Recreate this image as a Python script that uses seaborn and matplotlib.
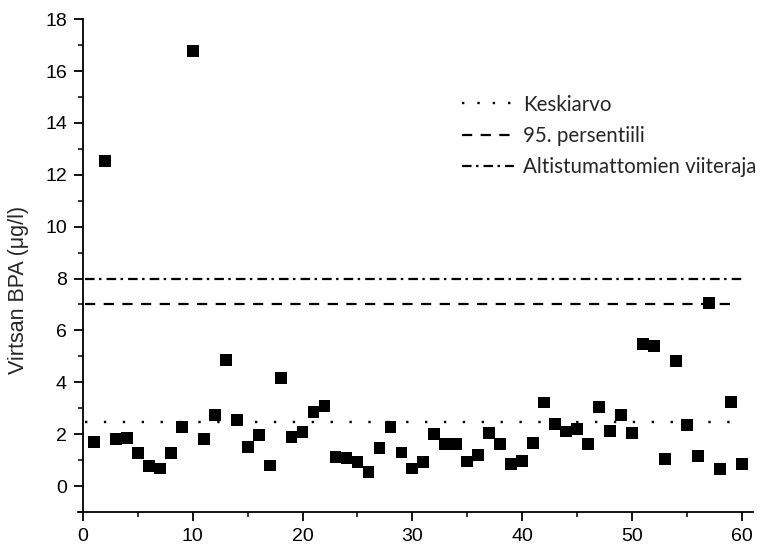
import matplotlib
matplotlib.use("Agg")
import matplotlib.pyplot as plt
from matplotlib.lines import Line2D
import numpy as np
import pandas as pd
import seaborn as sns

# Urine BPA concentration per sample (µg/l), samples 1..60
sample_no = list(range(1, 61))
bpa = [1.71, 12.52, 1.81, 1.84, 1.26, 0.78, 0.68, 1.26, 2.27, 16.77,
       1.80, 2.74, 4.85, 2.55, 1.51, 1.98, 0.79, 4.17, 1.89, 2.07,
       2.84, 3.09, 1.11, 1.07, 0.94, 0.53, 1.48, 2.29, 1.29, 0.68,
       0.93, 2.01, 1.61, 1.63, 0.95, 1.21, 2.06, 1.63, 0.84, 0.98,
       1.65, 3.22, 2.38, 2.10, 2.21, 1.63, 3.04, 2.12, 2.74, 2.05,
       5.48, 5.39, 1.03, 4.83, 2.34, 1.15, 7.05, 0.66, 3.24, 0.85]

# Reference levels
ref_labels = ["Keskiarvo", "95. persentiili", "Altistumattomien viiteraja"]
ref_values = [2.48, 7.0, 8.0]
ref_ends = [60.0, 59.3, 60.2]

y_ticks = [0, 2, 4, 6, 8, 10, 12, 14, 16, 18]
x_ticks = [0, 10, 20, 30, 40, 50, 60]

sns.set_style("ticks")
plt.rcParams["font.family"] = ["Liberation Sans", "DejaVu Sans"]

df = pd.DataFrame({"n": sample_no, "bpa": bpa})

fig = plt.figure(figsize=(7.65, 5.47), dpi=100)
ax = fig.add_axes([0.102, 0.064, 0.882, 0.901])

# reference lines
styles = [
    dict(linestyle=(0, (1.0, 7.0)), linewidth=1.7, dash_capstyle="butt"),
    dict(linestyle=(0, (4.6, 3.8)), linewidth=1.6),
    dict(linestyle=(0, (4.3, 2.0, 1.1, 2.3)), linewidth=1.6),
]
handles = []
for lab, val, end, st in zip(ref_labels, ref_values, ref_ends, styles):
    ax.plot([0.2, end], [val, val], color="black", zorder=2, **st)
    handles.append(Line2D([], [], color="black", **st))
# tighter dot spacing for the legend sample of the mean line
handles[0].set_linestyle((0, (1.0, 5.5)))

sns.scatterplot(data=df, x="n", y="bpa", marker="s", s=72, color="black",
                edgecolor="none", linewidth=0, ax=ax, zorder=3, legend=False)

ax.set_xlim(-0.45, 61.0)
ax.set_ylim(-1, 18)
ax.spines["left"].set_position(("data", 0))
ax.spines["top"].set_visible(False)
ax.spines["right"].set_visible(False)
for sp in ("left", "bottom"):
    ax.spines[sp].set_linewidth(1.3)
    ax.spines[sp].set_color("black")

ax.set_xticks(x_ticks)
ax.set_xticks([5, 15, 25, 35, 45, 55], minor=True)
ax.set_yticks(y_ticks)
ax.set_yticks([-1, 1, 3, 5, 7, 9, 11, 13, 15, 17], minor=True)
ax.tick_params(which="major", direction="out", length=6.5, width=1.3,
               labelsize=14, colors="black", pad=5)
ax.tick_params(which="minor", direction="out", length=3.5, width=1.3)

ax.set_xlabel("")
ax.set_ylabel("Virtsan BPA (μg/l)", fontsize=15.5)
ax.yaxis.set_label_coords(-0.072, 0.45)

leg = ax.legend(handles, ref_labels, loc="upper left",
                bbox_to_anchor=(0.569, 0.847), frameon=False,
                borderpad=0, borderaxespad=0,
                handlelength=2.55, handletextpad=0.42, labelspacing=0.55,
                prop={"family": "Lato", "size": 14.8})

fig.savefig("out.png", dpi=100)
